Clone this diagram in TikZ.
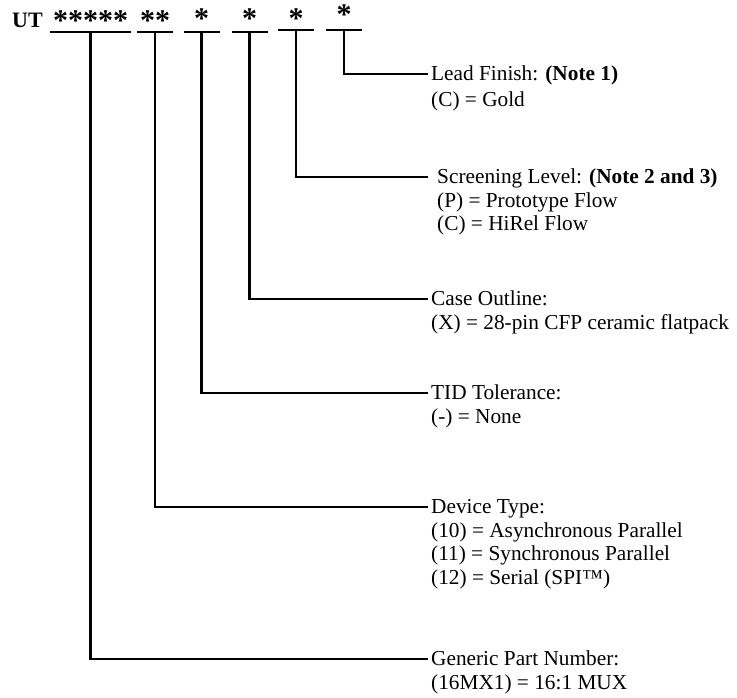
\documentclass[tikz,border=0pt]{standalone}
\usepackage{fontspec}
\setmainfont{Liberation Serif}
\tikzset{
  conn/.style={line width=2.6pt},
  stars/.style={anchor=base, inner sep=0pt, font=\fontsize{30}{30}\selectfont\bfseries},
  field/.style={anchor=west, inner ysep=0pt, inner xsep=3pt,
    text height=18pt, text depth=5.4pt, font=\fontsize{21.3}{23.4}\selectfont},
  code/.style={field, anchor=north west}
}
\begin{document}
\begin{tikzpicture}[x=1pt,y=-1pt]
\useasboundingbox (0,0) rectangle (737,698);

% part number and its fields
\node[anchor=base west, inner sep=0pt, font=\fontsize{22}{22}\selectfont\bfseries] (ut) at (12,27.5) {UT};
\node[stars] (s1) at (90.5,31) {*****};
\node[stars] (s2) at (155,31) {**};
\node[stars] (s3) at (201.5,29) {*};
\node[stars] (s4) at (249.5,29) {*};
\node[stars] (s5) at (296,29) {*};
\node[stars] (s6) at (344,25) {*};

% underlines
\coordinate (u1) at (90.5,32);
\coordinate (u2) at (155,32);
\coordinate (u3) at (201.5,32);
\coordinate (u4) at (249.5,32);
\coordinate (u5) at (296,30);
\coordinate (u6) at (344,30);
\draw[conn] ([xshift=-40.5pt]u1) -- ([xshift=40.5pt]u1);
\draw[conn] ([xshift=-18pt]u2) -- ([xshift=18pt]u2);
\draw[conn] ([xshift=-18pt]u3) -- ([xshift=18pt]u3);
\draw[conn] ([xshift=-18pt]u4) -- ([xshift=18pt]u4);
\draw[conn] ([xshift=-18pt]u5) -- ([xshift=18pt]u5);
\draw[conn] ([xshift=-18pt]u6) -- ([xshift=18pt]u6);

% descriptions
\node[field] (leadT) at (428,74) {Lead Finish: \textbf{(Note 1)}};
\node[code, yshift=-2pt] (leadV) at (leadT.south west) {(C) = Gold};

\node[field, inner xsep=9pt] (scrT) at (428,177) {Screening Level: \textbf{(Note 2 and 3)}};
\node[code, inner xsep=9pt] (scrV1) at (scrT.south west) {(P) = Prototype Flow};
\node[code, inner xsep=9pt] (scrV2) at (scrV1.south west) {(C) = HiRel Flow};

\node[field] (caseT) at (428,299) {Case Outline:};
\node[code] (caseV) at (caseT.south west) {(X) = 28-pin CFP ceramic flatpack};

\node[field] (tidT) at (428,393) {TID Tolerance:};
\node[code] (tidV) at (tidT.south west) {(-) = None};

\node[field] (devT) at (428,507) {Device Type:};
\node[code] (devV1) at (devT.south west) {(10) = Asynchronous Parallel};
\node[code] (devV2) at (devV1.south west) {(11) = Synchronous Parallel};
\node[code] (devV3) at (devV2.south west) {(12) = Serial (SPI™)};

\node[field] (genT) at (428,659) {Generic Part Number:};
\node[code] (genV) at (genT.south west) {(16MX1) = 16:1 MUX};

% leaders
\draw[conn] (u6) |- (leadT.west);
\draw[conn] (u5) |- (scrT.west);
\draw[conn] (u4) |- (caseT.west);
\draw[conn] (u3) |- (tidT.west);
\draw[conn] (u2) |- (devT.west);
\draw[conn] (u1) |- (genT.west);
\end{tikzpicture}
\end{document}
